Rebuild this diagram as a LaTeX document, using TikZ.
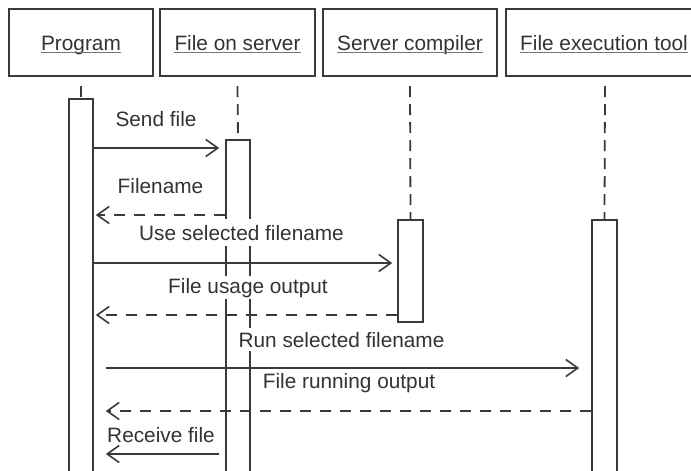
\documentclass[tikz,border=0pt]{standalone}
\usepackage{fontspec}
\setmainfont{Liberation Sans}
\usetikzlibrary{arrows.meta}
\definecolor{ln}{HTML}{3A3A3A}
\definecolor{tx}{HTML}{333333}
\begin{document}
\begin{tikzpicture}[x=1pt,y=-1pt,
  font=\fontsize{20.8}{25}\selectfont,
  headbox/.style={draw=ln,line width=2.2pt,minimum height=67pt,inner sep=0pt},
  htext/.style={inner sep=0pt,anchor=base,text=tx},
  uline/.style={draw=ln!70,line width=1pt},
  actbox/.style={draw=ln,line width=1.6pt,fill=white,minimum width=24pt,inner sep=0pt,anchor=north},
  life/.style={draw=ln,line width=1.8pt,dash pattern=on 11pt off 7pt},
  msg/.style={draw=ln,line width=1.6pt,-{Straight Barb[length=12pt,width=17pt]}},
  reply/.style={msg,dash pattern=on 11pt off 9pt},
  lbl/.style={inner sep=2pt,fill=white,text=tx,anchor=base}]
\useasboundingbox (0,0) rectangle (691,471);
\clip (0,0) rectangle (691,471);
\fill[white] (0,0) rectangle (691,471);

% header boxes
\node[headbox,minimum width=144pt] (h1) at (81,42.5) {};
\node[headbox,minimum width=155pt] (h2) at (237.5,42.5) {};
\node[headbox,minimum width=174pt] (h3) at (410,42.5) {};
\node[headbox,minimum width=198pt] (h4) at (605,42.5) {};
\node[htext] (t1) at (81,50) {Program};
\node[htext] (t2) at (237.5,50) {File on server};
\node[htext] (t3) at (410,50) {Server compiler};
\node[htext] (t4) at (604,50) {File execution tool};
\foreach \t in {t1,t2,t3,t4}
  \draw[uline] ([yshift=-2.5pt]\t.base west) -- ([yshift=-2.5pt]\t.base east);

% activation boxes
\node[actbox,minimum height=390pt] (a1) at (81,98) {};
\node[actbox,minimum height=350pt] (a2) at (238,139) {};
\node[actbox,minimum width=25pt,minimum height=102pt] (a3) at (410.5,219) {};
\node[actbox,minimum width=25pt,minimum height=270pt] (a4) at (604.5,219) {};

% lifelines
\draw[life] ([yshift=-9pt]h1.south) -- (a1.north);
\draw[life] ([yshift=-9pt]h2.south) -- (a2.north);
\draw[life] ([yshift=-9pt]h3.south) -- (a3.north);
\draw[life] ([yshift=-9pt]h4.south) -- (a4.north);

% y levels
\coordinate (y1) at (0,148);
\coordinate (y2) at (0,215);
\coordinate (y3) at (0,263);
\coordinate (y4) at (0,315);
\coordinate (y5) at (0,368);
\coordinate (y6) at (0,411);
\coordinate (y7) at (0,454);

% messages
\draw[msg,shorten >=6pt] (a1.east |- y1) -- (a2.west |- y1);
\draw[reply,shorten >=2pt] (a2.west |- y2) -- (a1.east |- y2);
\draw[msg,shorten >=5pt] (a1.east |- y3) -- (a3.west |- y3);
\draw[reply,shorten >=2pt] (a3.west |- y4) -- (a1.east |- y4);
\draw[msg,shorten <=12pt,shorten >=12pt] (a1.east |- y5) -- (a4.west |- y5);
\draw[reply,shorten >=12pt] (a4.west |- y6) -- (a1.east |- y6);
\draw[msg,shorten <=6pt,shorten >=12pt] (a2.west |- y7) -- (a1.east |- y7);

% labels
\node[lbl] (l1) at (156,126) {Send file};
\node[lbl] (l2) at (160.5,193) {Filename};
\node[lbl,inner ysep=6pt] (l3) at (241.5,240) {Use selected filename};
\node[lbl] (l4) at (248,293) {File usage output};
\node[lbl,inner ysep=4pt] (l5) at (341.5,347) {Run selected filename};
\node[lbl] (l6) at (349,388) {File running output};
\node[lbl] (l7) at (161,442) {Receive file};
\end{tikzpicture}
\end{document}
